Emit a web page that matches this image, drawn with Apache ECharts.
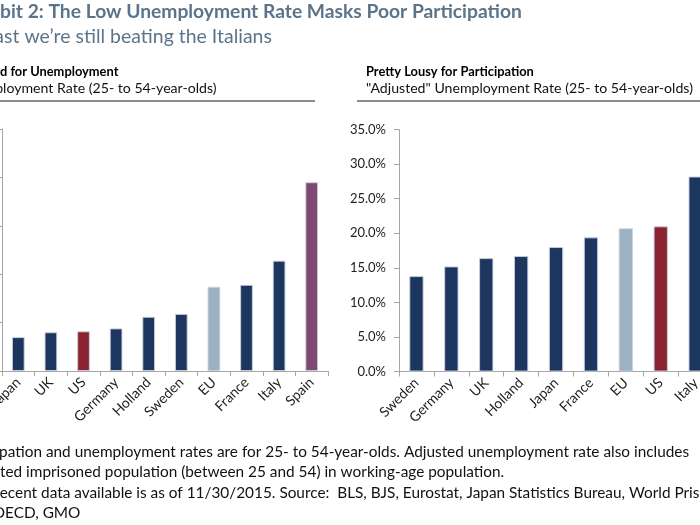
<!DOCTYPE html>
<html>
<head>
<meta charset="utf-8">
<script src="https://cdn.jsdelivr.net/npm/echarts@6/dist/echarts.min.js"></script>
<style>
html,body{margin:0;padding:0;background:#fff;overflow:hidden;}
#chart{width:700px;height:525px;}
</style>
</head>
<body>
<div id="chart"></div>
<script>
// ---- data ----
const leftCategories = ['Japan', 'UK', 'US', 'Germany', 'Holland', 'Sweden', 'EU', 'France', 'Italy', 'Spain'];
const leftValues = [3.5, 4.0, 4.1, 4.4, 5.6, 5.9, 8.7, 8.9, 11.4, 19.5];
const rightCategories = ['Sweden', 'Germany', 'UK', 'Holland', 'Japan', 'France', 'EU', 'US', 'Italy', 'Spain'];
const rightValues = [13.8, 15.2, 16.4, 16.7, 18.0, 19.4, 20.7, 21.0, 28.2, 31.5];
const leftTicks = [0, 5, 10, 15, 20, 25];
const rightTicks = [0, 5, 10, 15, 20, 25, 30, 35];

const titleText = 'Exhibit 2: The Low Unemployment Rate Masks Poor Participation';
const subtitleText = 'At least we\u2019re still beating the Italians';
const leftTitle = 'Good for Unemployment';
const leftSub = 'Unemployment Rate (25- to 54-year-olds)';
const rightTitle = 'Pretty Lousy for Participation';
const rightSub = '"Adjusted" Unemployment Rate (25- to 54-year-olds)';
const notes = [
  'Note: Participation and unemployment rates are for 25- to 54-year-olds. Adjusted unemployment rate also includes',
  'estimated imprisoned population (between 25 and 54) in working-age population.',
  'Most recent data available is as of 11/30/2015. Source:  BLS, BJS, Eurostat, Japan Statistics Bureau, World Prison',
  'Brief, OECD, GMO'
];

// ---- styling ----
const NAVY = '#1d365f', RED = '#8c2332', LIGHT = '#9cb2c3', PURPLE = '#7e4a73';
function colorFor(c) {
  if (c === 'US') return RED;
  if (c === 'EU') return LIGHT;
  if (c === 'Spain') return PURPLE;
  return NAVY;
}
const FONT = 'Lato';
const ctx = document.createElement('canvas').getContext('2d');
function tw(text, size, weight) { ctx.font = (weight || 'normal') + ' ' + size + 'px ' + FONT; return ctx.measureText(text).width; }
function fit(text, target, weight) { return 100 * target / tw(text, 100, weight); }

const titleSize = fit(titleText.slice(4), 522, 'bold');
const subSize = fit(subtitleText.slice(6), 268, 'normal');
const chartTitleSize = fit(rightTitle, 168, 'bold');
const chartSubSize = fit(rightSub, 327, 'normal');
const noteSize = fit(notes[0].slice(13), 690, 'normal');

function txt(text, x, y, size, weight, color) {
  return { type: 'text', x: x, y: y, silent: true,
    style: { text: text, font: (weight || 'normal') + ' ' + size.toFixed(2) + 'px ' + FONT,
      fill: color || '#111', verticalAlign: 'middle', align: 'left' } };
}

const graphics = [
  txt(titleText, -tw('Exhi', titleSize, 'bold'), 12, titleSize, 'bold', '#5b7489'),
  txt(subtitleText, 4 - tw('At lea', subSize), 37, subSize, 'normal', '#5b7489'),
  txt(leftTitle, -tw('Goo', chartTitleSize, 'bold'), 72, chartTitleSize, 'bold', '#000'),
  txt(leftSub, 3 - tw('Unemp', chartSubSize), 88, chartSubSize, 'normal', '#111'),
  txt(rightTitle, 366, 72, chartTitleSize, 'bold', '#000'),
  txt(rightSub, 366, 88, chartSubSize, 'normal', '#111'),
  { type: 'line', silent: true, shape: { x1: 0, y1: 101, x2: 315, y2: 101 }, style: { stroke: '#666', lineWidth: 1.5 } },
  { type: 'line', silent: true, shape: { x1: 357, y1: 101, x2: 700, y2: 101 }, style: { stroke: '#666', lineWidth: 1.5 } },
  txt(notes[0], -1 - tw('Note: Partici', noteSize), 452, noteSize, 'normal', '#111'),
  txt(notes[1], -tw('estima', noteSize), 472, noteSize, 'normal', '#111'),
  txt(notes[2], -tw('Most r', noteSize), 493, noteSize, 'normal', '#111'),
  txt(notes[3], 5 - tw('Brief, O', noteSize), 513, noteSize, 'normal', '#111')
];

const axisLineStyle = { lineStyle: { color: '#a6a6a6', width: 1 } };
function catAxis(idx, cats) {
  return { type: 'category', gridIndex: idx, data: cats, boundaryGap: true,
    axisLine: axisLineStyle, axisTick: { show: true, length: 5, alignWithLabel: false, lineStyle: { color: '#a6a6a6' } },
    axisLabel: { rotate: 45, margin: 9, interval: 0, color: '#222', fontFamily: FONT, fontSize: 14 } };
}
function valAxis(idx, ticks) {
  return { type: 'value', gridIndex: idx, min: ticks[0], max: ticks[ticks.length - 1], interval: ticks[1] - ticks[0],
    axisLine: { show: true, lineStyle: { color: '#a6a6a6' } },
    axisTick: { show: true, length: 5, lineStyle: { color: '#a6a6a6' } },
    splitLine: { show: false },
    axisLabel: { margin: 13, color: '#222', fontFamily: FONT, fontSize: 13, formatter: v => v.toFixed(1) + '%' } };
}
function barSeries(idx, cats, vals, width) {
  return { type: 'bar', xAxisIndex: idx, yAxisIndex: idx, barWidth: width,
    data: vals.map((v, i) => ({ value: v, itemStyle: { color: colorFor(cats[i]) } })),
    itemStyle: { borderColor: 'rgba(200,208,220,0.9)', borderWidth: 1 },
    emphasis: { disabled: true } };
}

const chart = echarts.init(document.getElementById('chart'), null, { renderer: 'canvas' });
chart.setOption({
  animation: false,
  backgroundColor: '#fff',
  grid: [
    { left: 2, top: 129, width: 326, height: 242, containLabel: false, outerBoundsMode: 'none' },
    { left: 399, top: 129.5, width: 349, height: 242, containLabel: false, outerBoundsMode: 'none' }
  ],
  xAxis: [catAxis(0, leftCategories), catAxis(1, rightCategories)],
  yAxis: [valAxis(0, leftTicks), valAxis(1, rightTicks)],
  series: [barSeries(0, leftCategories, leftValues, '39%'), barSeries(1, rightCategories, rightValues, '41%')],
  graphic: graphics
});
</script>
</body>
</html>
